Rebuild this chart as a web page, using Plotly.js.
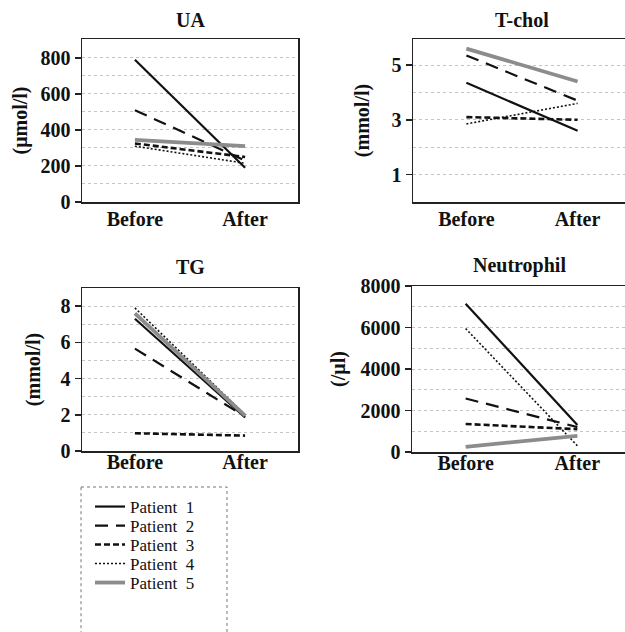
<!DOCTYPE html>
<html>
<head>
<meta charset="utf-8">
<script src="https://cdn.plot.ly/plotly-3.0.1.min.js"></script>
<style>html,body{margin:0;padding:0;overflow:hidden;background:#fff;}</style>
</head>
<body>
<div id="chart"></div>
<script>
// ---- data ----
const timepoints = ["Before", "After"];
const patients = ["Patient  1", "Patient  2", "Patient  3", "Patient  4", "Patient  5"];

const uaP1 = [790, 190];
const uaP2 = [510, 230];
const uaP3 = [325, 250];
const uaP4 = [310, 215];
const uaP5 = [345, 310];

const tcholP1 = [4.35, 2.6];
const tcholP2 = [5.35, 3.7];
const tcholP3 = [3.1, 3.0];
const tcholP4 = [2.85, 3.6];
const tcholP5 = [5.6, 4.4];

const tgP1 = [7.3, 1.85];
const tgP2 = [5.65, 1.9];
const tgP3 = [0.98, 0.85];
const tgP4 = [7.9, 2.0];
const tgP5 = [7.6, 1.95];

const neuP1 = [7150, 1300];
const neuP2 = [2580, 1200];
const neuP3 = [1350, 1100];
const neuP4 = [5950, 300];
const neuP5 = [250, 780];

const panelTitles = ["UA", "T-chol", "TG", "Neutrophil"];
const unitTitles = ["(μmol/l)", "(mmol/l)", "(mmol/l)", "(/μl)"];

// ---- styles ----
const styles = [
  {color: "#111", width: 2.2, dash: "solid"},
  {color: "#111", width: 2.2, dash: "13px,8px"},
  {color: "#111", width: 2.6, dash: "6px,3px"},
  {color: "#111", width: 1.6, dash: "2px,2px"},
  {color: "#8c8c8c", width: 3.8, dash: "solid"}
];

const panels = [
  {data: [uaP1, uaP2, uaP3, uaP4, uaP5], xa: "x", ya: "y"},
  {data: [tcholP1, tcholP2, tcholP3, tcholP4, tcholP5], xa: "x2", ya: "y2"},
  {data: [tgP1, tgP2, tgP3, tgP4, tgP5], xa: "x3", ya: "y3"},
  {data: [neuP1, neuP2, neuP3, neuP4, neuP5], xa: "x4", ya: "y4"}
];
const legendIds = ["legend", "legend2", "legend3", "legend4", "legend5"];

const traces = [];
panels.forEach((p, pi) => {
  p.data.forEach((vals, i) => {
    traces.push({
      x: timepoints, y: vals, type: "scatter", mode: "lines",
      xaxis: p.xa, yaxis: p.ya,
      name: patients[i], legend: legendIds[i],
      showlegend: pi === 0,
      line: styles[i],
      hoverinfo: "skip"
    });
  });
});

const W = 632, H = 632;
const serif = "Liberation Serif";
const tickFont = {family: serif, size: 20, color: "#111", weight: "bold"};

function xax(l, r, anchor, lblOff) {
  return {
    domain: [l / W, r / W], anchor: anchor, type: "category",
    range: [-0.48, 1.48], showline: true, mirror: true, linecolor: "#222", linewidth: 1.5,
    ticks: "", showgrid: false, zeroline: false, tickfont: tickFont, fixedrange: true,
    ticklabelstandoff: lblOff
  };
}
function yax(top, bot, anchor, range, t0, dtick, minor, title, standoff) {
  return {
    domain: [1 - bot / H, 1 - top / H], anchor: anchor, range: range,
    tickmode: "linear", tick0: t0, dtick: dtick,
    showline: true, mirror: true, linecolor: "#222", linewidth: 1.5,
    ticks: "outside", ticklen: 6, tickwidth: 1.5, tickcolor: "#222",
    showgrid: true, gridcolor: "#c4c4c4", griddash: "dot", gridwidth: 1,
    minor: {tick0: 0, dtick: minor, showgrid: true, gridcolor: "#c4c4c4", griddash: "dot", gridwidth: 1},
    zeroline: false, tickfont: tickFont, fixedrange: true,
    title: {text: title, font: {family: serif, size: 20, color: "#111", weight: "bold"}, standoff: standoff}
  };
}

const legends = {};
legendIds.forEach((id, i) => {
  legends[id] = {
    x: 90 / W, y: 1 - (507 + 19 * i) / H, xanchor: "left", yanchor: "middle",
    bgcolor: "rgba(0,0,0,0)", borderwidth: 0,
    font: {family: serif, size: 17, color: "#111"}
  };
});

const layout = Object.assign({
  width: W, height: H,
  margin: {l: 0, r: 0, t: 0, b: 0},
  paper_bgcolor: "#fff", plot_bgcolor: "#fff",
  showlegend: true,
  xaxis: xax(82, 298, "y", -2),
  yaxis: yax(39, 202, "x", [0, 905], 0, 200, 100, unitTitles[0], 7),
  xaxis2: xax(413, 631, "y2", -2),
  yaxis2: yax(39, 202, "x2", [0, 5.95], 1, 2, 1, unitTitles[1], 16),
  xaxis3: xax(82, 298, "y3", -8),
  yaxis3: yax(288, 451, "x3", [0, 9.0], 0, 2, 1, unitTitles[2], 14),
  xaxis4: xax(412, 631, "y4", -8),
  yaxis4: yax(286, 452, "x4", [0, 8000], 0, 2000, 1000, unitTitles[3], 9),
  shapes: [{
    type: "rect", xref: "paper", yref: "paper",
    x0: 81 / W, x1: 227 / W, y0: 1 - 487 / H, y1: -0.05,
    line: {color: "#777", width: 1, dash: "dot"}, fillcolor: "rgba(0,0,0,0)"
  }],
  annotations: [
    {text: panelTitles[0], x: 190 / W, y: 1 - 20 / H},
    {text: panelTitles[1], x: 522 / W, y: 1 - 20 / H},
    {text: panelTitles[2], x: 190 / W, y: 1 - 267 / H},
    {text: panelTitles[3], x: 519 / W, y: 1 - 265 / H}
  ].map(a => Object.assign(a, {
    xref: "paper", yref: "paper", showarrow: false, xanchor: "center", yanchor: "middle",
    font: {family: serif, size: 20, color: "#111", weight: "bold"}
  }))
}, legends);

Plotly.newPlot("chart", traces, layout, {displayModeBar: false, staticPlot: true});
</script>
</body>
</html>
